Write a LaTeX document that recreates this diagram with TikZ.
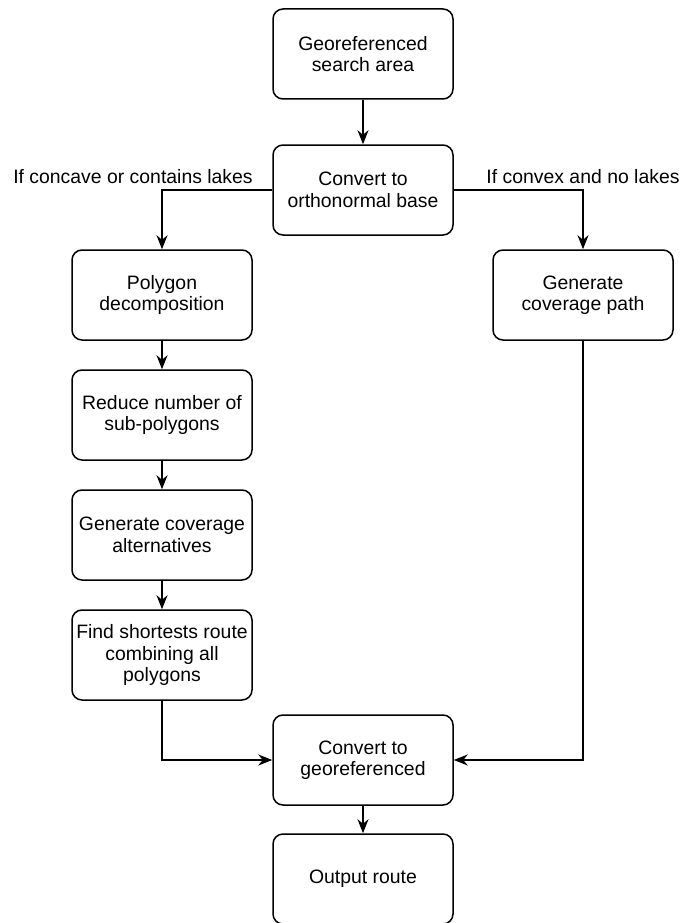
\documentclass[tikz,border=0pt]{standalone}
\usepackage{fontspec}
\setmainfont{Liberation Sans}
\usetikzlibrary{arrows.meta}
\tikzset{
  box/.style={draw, line width=1.5pt, rounded corners=10pt, minimum width=180pt,
    minimum height=90pt, align=center, inner sep=2pt,
    font=\fontsize{19.4}{21.5}\selectfont},
  flow/.style={line width=1.5pt, -{Stealth[length=14pt,width=11pt,inset=4.5pt]}},
  note/.style={font=\fontsize{19.4}{21.5}\selectfont, inner sep=0pt}
}
\begin{document}
\begin{tikzpicture}[x=1pt,y=-1pt]
\useasboundingbox (0,0) rectangle (684,923);
% main column
\node[box] (geo)  at (363,54)  {Georeferenced\\search area};
\node[box] (orth) at (363,190) {Convert to\\orthonormal base};
% decomposition branch
\node[box] (dec)  at (162,295) {Polygon\\decomposition};
\node[box] (red)  at (162,415) {Reduce number of\\sub-polygons};
\node[box] (alt)  at (162,535) {Generate coverage\\alternatives};
\node[box] (sho)  at (162,655) {Find shortests route\\combining all\\polygons};
% direct branch
\node[box] (cov)  at (583,295) {Generate\\coverage path};
% output
\node[box] (back) at (363,760) {Convert to\\georeferenced};
\node[box] (out)  at (363,879) {Output route};
% branch labels
\node[note, anchor=base] (lblL) at (133,183) {If concave or contains lakes};
\node[note, anchor=base] (lblR) at (583,183) {If convex and no lakes};
% connectors
\draw[flow] (geo) -- (orth);
\draw[flow] (orth.west) -| (dec.north);
\draw[flow] (orth.east) -| (cov.north);
\draw[flow] (dec) -- (red);
\draw[flow] (red) -- (alt);
\draw[flow] (alt) -- (sho);
\draw[flow] (sho.south) |- (back.west);
\draw[flow] (cov.south) |- (back.east);
\draw[flow] (back) -- (out);
\end{tikzpicture}
\end{document}
